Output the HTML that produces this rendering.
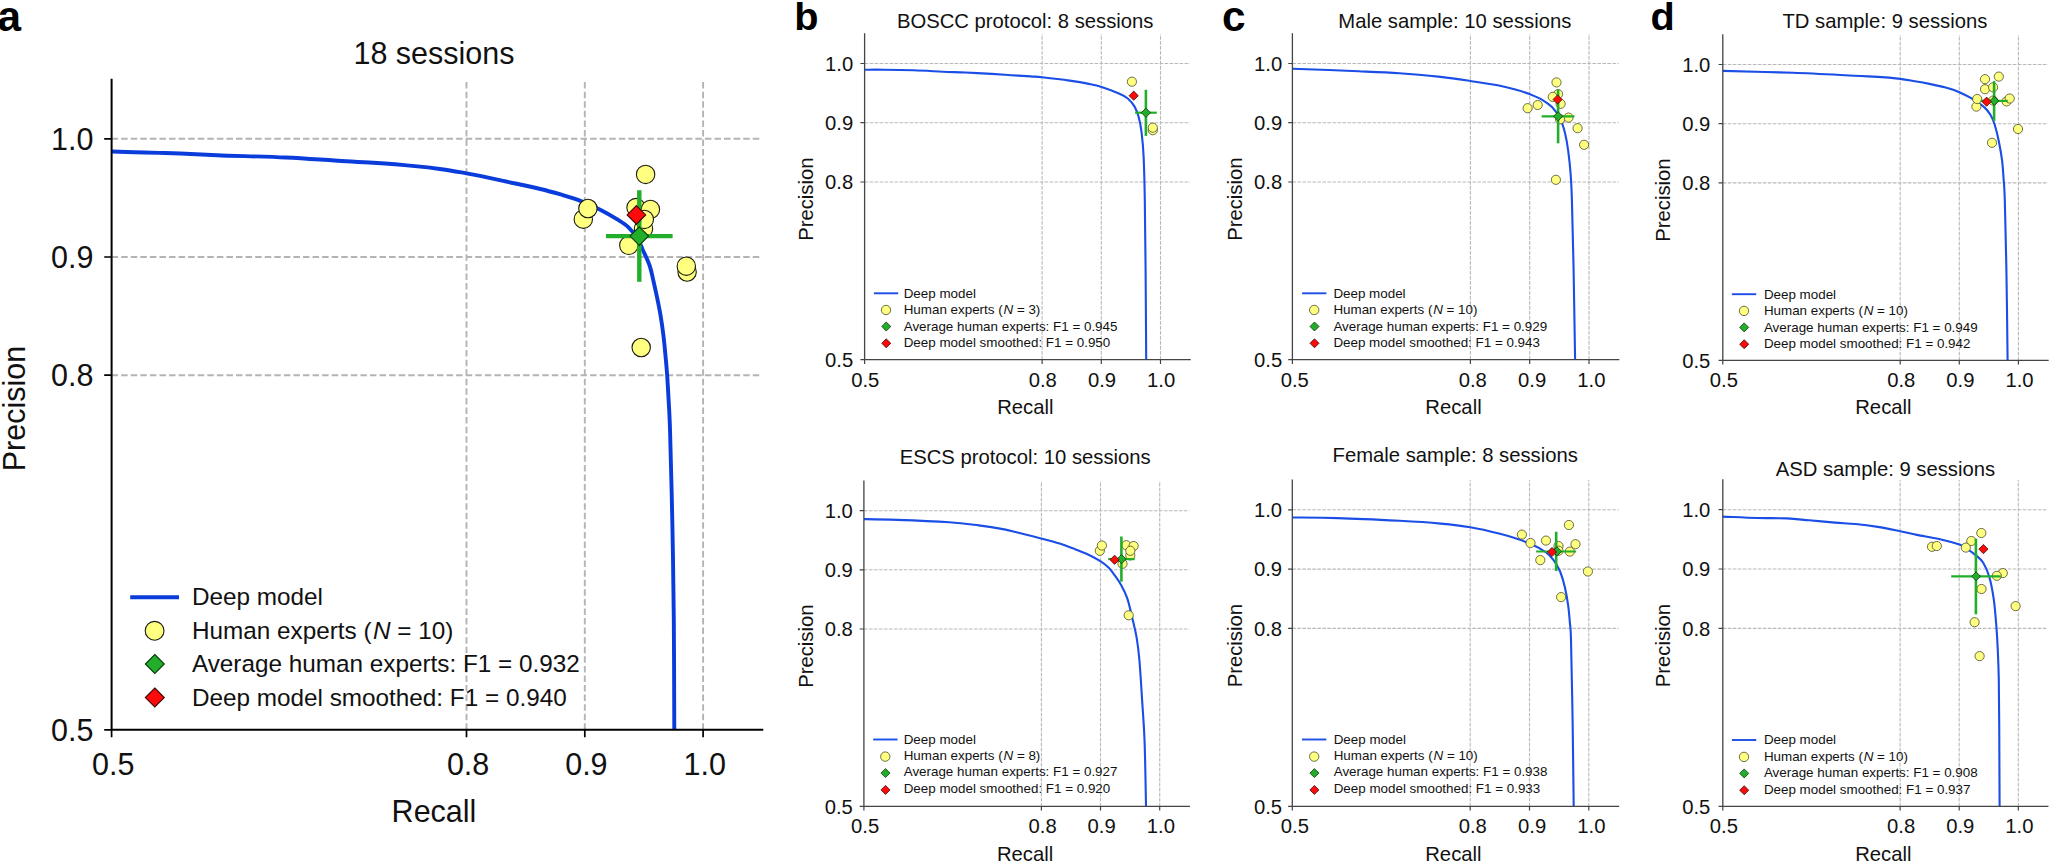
<!DOCTYPE html>
<html lang="en"><head><meta charset="utf-8"><title>Precision-recall curves</title>
<style>html,body{margin:0;padding:0;background:#fff}body{width:2049px;height:862px;overflow:hidden}svg{display:block;font-family:"Liberation Sans", Arial, Helvetica, sans-serif;fill:#111}</style></head><body>
<svg width="2049" height="862" viewBox="0 0 2049 862" role="img" aria-label="Precision-recall curves of the deep model versus human experts">
<rect width="2049" height="862" fill="#fff"/>
<g>
<path d="M466.5 729.8V79.7M584.8 729.8V79.7M703.1 729.8V79.7M111.6 138.8H762.3M111.6 257H762.3M111.6 375.2H762.3" fill="none" stroke="#b4b4b4" stroke-width="1.9" stroke-dasharray="6.5 3.07"/>
<path d="M111.6 151.5C115.5 151.6 127.2 152 135 152.2C142.8 152.4 151.1 152.7 158.6 152.9C166.1 153.1 170.2 153.1 180 153.5C189.8 153.9 199.5 154.5 217.1 155.2C234.7 155.9 266 156.6 285.5 157.5C305 158.4 319.7 159.6 334.3 160.5C348.9 161.4 360.3 161.9 373.3 162.8C386.3 163.7 400.9 164.8 412.3 165.9C423.7 167 432.6 168 441.6 169.2C450.6 170.4 460 172.2 466.4 173.3C472.8 174.4 473.9 174.6 480 175.9C486.1 177.2 493.1 178.7 503.2 180.9C513.2 183.1 530.2 186.6 540.3 189C550.3 191.4 556.9 193.4 563.5 195.3C570.1 197.2 573.6 198.2 579.8 200.6C586 203 594.5 206.8 600.7 209.9C606.9 213 612.3 216.3 616.9 219.2C621.5 222.1 625.1 224.1 628.5 227.3C631.9 230.5 635.1 234.9 637.5 238.6C639.9 242.3 640.7 245.2 642.7 249.7C644.7 254.2 647.8 260.2 649.6 265.5C651.4 270.8 652.2 275.6 653.5 281.2C654.8 286.8 656.2 293.4 657.4 299C658.5 304.6 659.4 308.8 660.4 314.7C661.4 320.6 662.4 327.2 663.3 334.4C664.2 341.6 665.1 351.2 665.7 358.1C666.4 365 666.7 368.8 667.2 375.8C667.7 382.8 668.1 390.4 668.6 399.9C669.1 409.4 669.5 411.9 670.1 432.8C670.7 453.8 671.8 494.7 672.4 525.6C673 556.5 673.5 584.4 673.8 618.4C674.1 652.4 674.2 711 674.3 729.5" fill="none" stroke="#0a3cdc" stroke-width="3.9" stroke-linejoin="round"/>
<path d="M111.6 79.7V729.8H762.3" fill="none" stroke="#000" stroke-width="2.0" stroke-linecap="square"/>
<path d="M111.6 729.8v7.4M466.5 729.8v7.4M584.8 729.8v7.4M703.1 729.8v7.4M111.6 729.8h-7.4M111.6 138.8h-7.4M111.6 257h-7.4M111.6 375.2h-7.4" fill="none" stroke="#000" stroke-width="1.7"/>
<circle cx="645.6" cy="174.4" r="9.2" fill="#ffff80" stroke="#1a1a10" stroke-width="1.1"/>
<circle cx="583.3" cy="219.2" r="9.2" fill="#ffff80" stroke="#1a1a10" stroke-width="1.1"/>
<circle cx="587.9" cy="208.5" r="9.2" fill="#ffff80" stroke="#1a1a10" stroke-width="1.1"/>
<circle cx="636" cy="207.6" r="9.2" fill="#ffff80" stroke="#1a1a10" stroke-width="1.1"/>
<circle cx="650.4" cy="209.4" r="9.2" fill="#ffff80" stroke="#1a1a10" stroke-width="1.1"/>
<circle cx="643.5" cy="228.8" r="9.2" fill="#ffff80" stroke="#1a1a10" stroke-width="1.1"/>
<circle cx="644.3" cy="219.4" r="9.2" fill="#ffff80" stroke="#1a1a10" stroke-width="1.1"/>
<circle cx="628.8" cy="245.3" r="9.2" fill="#ffff80" stroke="#1a1a10" stroke-width="1.1"/>
<circle cx="687.1" cy="272" r="9.2" fill="#ffff80" stroke="#1a1a10" stroke-width="1.1"/>
<circle cx="686.3" cy="266.2" r="9.2" fill="#ffff80" stroke="#1a1a10" stroke-width="1.1"/>
<circle cx="641.2" cy="347.5" r="9.2" fill="#ffff80" stroke="#1a1a10" stroke-width="1.1"/>
<path d="M606 236.1H672.6" stroke="#22ae2a" stroke-width="4.4" fill="none"/>
<path d="M639.3 190.2V281.8" stroke="#22ae2a" stroke-width="4.4" fill="none"/>
<path d="M639.3 226.8L648.6 236.1L639.3 245.4L630 236.1Z" fill="#22ae2a" stroke="#0a3a0a" stroke-width="1.1" stroke-linejoin="miter"/>
<path d="M636.4 205.6L645.7 214.9L636.4 224.2L627.1 214.9Z" fill="#ff0a0a" stroke="#3a0a0a" stroke-width="1.1" stroke-linejoin="miter"/>
<text x="113.2" y="774.6" font-size="30.5" text-anchor="middle">0.5</text>
<text x="468.1" y="774.6" font-size="30.5" text-anchor="middle">0.8</text>
<text x="586.4" y="774.6" font-size="30.5" text-anchor="middle">0.9</text>
<text x="704.7" y="774.6" font-size="30.5" text-anchor="middle">1.0</text>
<text x="93.4" y="740.7" font-size="30.5" text-anchor="end">0.5</text>
<text x="93.4" y="149.7" font-size="30.5" text-anchor="end">1.0</text>
<text x="93.4" y="267.9" font-size="30.5" text-anchor="end">0.9</text>
<text x="93.4" y="386.1" font-size="30.5" text-anchor="end">0.8</text>
<text x="434" y="822" font-size="30.5" text-anchor="middle">Recall</text>
<text transform="translate(24.8 408.6) rotate(-90)" font-size="30.5" text-anchor="middle">Precision</text>
<text x="434" y="64" font-size="30.5" text-anchor="middle">18 sessions</text>
<path d="M130.2 597.3H179" stroke="#0a3cdc" stroke-width="3.9" fill="none"/>
<circle cx="154.6" cy="630.8" r="9.4" fill="#ffff80" stroke="#1a1a10" stroke-width="1.1"/>
<path d="M154.8 654.5L164.3 664L154.8 673.5L145.3 664Z" fill="#22ae2a" stroke="#0a3a0a" stroke-width="1.1" stroke-linejoin="miter"/>
<path d="M154.8 688L164.3 697.5L154.8 707L145.3 697.5Z" fill="#ff0a0a" stroke="#3a0a0a" stroke-width="1.1" stroke-linejoin="miter"/>
<text x="191.9" y="605" font-size="24.3" text-anchor="start">Deep model</text>
<text x="191.9" y="638.7" font-size="24.3">Human experts (<tspan font-style="italic" dx="1.5">N</tspan> = 10)</text>
<text x="191.9" y="672.2" font-size="24.3" text-anchor="start">Average human experts: F1 = 0.932</text>
<text x="191.9" y="705.7" font-size="24.3" text-anchor="start">Deep model smoothed: F1 = 0.940</text>
</g>
<g>
<path d="M1042.1 359.7V33.9M1101.3 359.7V33.9M1160.5 359.7V33.9M864.6 63.5H1190.1M864.6 122.7H1190.1M864.6 182H1190.1" fill="none" stroke="#b9b9b9" stroke-width="1.1" stroke-dasharray="3.6 1.4"/>
<path d="M864.6 69.7C867.9 69.7 876.1 69.6 884.3 69.7C892.5 69.8 903.9 70 913.6 70.3C923.4 70.6 934.2 71.3 942.8 71.7C951.4 72.1 957.1 72.1 965.3 72.5C973.4 72.9 984.1 73.5 991.7 73.9C999.4 74.4 1004.7 74.8 1011.2 75.2C1017.7 75.6 1025.5 76.1 1030.7 76.4C1035.9 76.8 1035.7 76.6 1042.2 77.3C1048.7 78 1061.8 79.5 1069.6 80.6C1077.4 81.7 1083.7 82.8 1089 83.9C1094.3 85 1096.6 85.4 1101.6 87C1106.6 88.6 1114.5 91.6 1118.9 93.5C1123.3 95.4 1125.2 96.3 1127.8 98.5C1130.4 100.7 1132.9 103.9 1134.7 106.9C1136.5 110 1137.4 112.5 1138.6 116.8C1139.8 121.1 1140.8 126 1141.6 132.6C1142.4 139.2 1143.1 145.1 1143.6 156.3C1144.1 167.5 1144.5 181.1 1144.8 200C1145.1 218.9 1145.4 243.4 1145.6 270C1145.8 296.6 1146.1 344.5 1146.2 359.4" fill="none" stroke="#1a4ee6" stroke-width="2.1" stroke-linejoin="round"/>
<path d="M864.6 33.9V359.7H1190.1" fill="none" stroke="#444" stroke-width="1.3" stroke-linecap="square"/>
<path d="M864.6 359.7v4.2M1042.1 359.7v4.2M1101.3 359.7v4.2M1160.5 359.7v4.2M864.6 359.7h-4.2M864.6 63.5h-4.2M864.6 122.7h-4.2M864.6 182h-4.2" fill="none" stroke="#444" stroke-width="1.2"/>
<circle cx="1152.8" cy="130.2" r="4.6" fill="#ffff80" stroke="#4a4a2a" stroke-width="0.8"/>
<circle cx="1152.8" cy="127.7" r="4.6" fill="#ffff80" stroke="#4a4a2a" stroke-width="0.8"/>
<circle cx="1131.9" cy="81.7" r="4.6" fill="#ffff80" stroke="#4a4a2a" stroke-width="0.8"/>
<path d="M1135.1 112.7H1156.8" stroke="#22ae2a" stroke-width="2.2" fill="none"/>
<path d="M1145.9 89.8V135.9" stroke="#22ae2a" stroke-width="2.6" fill="none"/>
<path d="M1145.9 108.1L1150.5 112.7L1145.9 117.3L1141.3 112.7Z" fill="#22ae2a" stroke="#0a3a0a" stroke-width="0.8" stroke-linejoin="miter"/>
<path d="M1133.7 91.1L1138.3 95.7L1133.7 100.3L1129.1 95.7Z" fill="#ff0a0a" stroke="#3a0a0a" stroke-width="0.8" stroke-linejoin="miter"/>
<text x="865.3" y="386.7" font-size="20.25" text-anchor="middle">0.5</text>
<text x="1042.8" y="386.7" font-size="20.25" text-anchor="middle">0.8</text>
<text x="1102" y="386.7" font-size="20.25" text-anchor="middle">0.9</text>
<text x="1161.2" y="386.7" font-size="20.25" text-anchor="middle">1.0</text>
<text x="853.2" y="366.9" font-size="20.25" text-anchor="end">0.5</text>
<text x="853.2" y="70.7" font-size="20.25" text-anchor="end">1.0</text>
<text x="853.2" y="130" font-size="20.25" text-anchor="end">0.9</text>
<text x="853.2" y="189.2" font-size="20.25" text-anchor="end">0.8</text>
<text x="1025.3" y="414.3" font-size="20.25" text-anchor="middle">Recall</text>
<text transform="translate(813.2 199.2) rotate(-90)" font-size="20.25" text-anchor="middle">Precision</text>
<text x="1025.2" y="27.7" font-size="20.25" text-anchor="middle">BOSCC protocol: 8 sessions</text>
<path d="M873.9 293.3H898.2" stroke="#1a4ee6" stroke-width="1.9" fill="none"/>
<circle cx="886" cy="310" r="4.7" fill="#ffff80" stroke="#4a4a2a" stroke-width="0.8"/>
<path d="M886.2 322L890.8 326.5L886.2 331L881.8 326.5Z" fill="#22ae2a" stroke="#0a3a0a" stroke-width="0.8" stroke-linejoin="miter"/>
<path d="M886.2 338.8L890.8 343.3L886.2 347.8L881.8 343.3Z" fill="#ff0a0a" stroke="#3a0a0a" stroke-width="0.8" stroke-linejoin="miter"/>
<text x="903.7" y="297.8" font-size="13.4" text-anchor="start">Deep model</text>
<text x="903.7" y="314.2" font-size="13.4">Human experts (<tspan font-style="italic" dx="0.8">N</tspan> = 3)</text>
<text x="903.7" y="330.6" font-size="13.4" text-anchor="start">Average human experts: F1 = 0.945</text>
<text x="903.7" y="347.3" font-size="13.4" text-anchor="start">Deep model smoothed: F1 = 0.950</text>
</g>
<g>
<path d="M1041.4 806.4V481.1M1100.5 806.4V481.1M1159.7 806.4V481.1M863.9 510.7H1189.3M863.9 569.8H1189.3M863.9 629H1189.3" fill="none" stroke="#b9b9b9" stroke-width="1.1" stroke-dasharray="3.6 1.4"/>
<path d="M863.9 519.1C869.4 519.2 882.9 519.4 897.1 519.9C911.3 520.4 935.5 521.4 949.1 522.3C962.7 523.2 969.8 524.3 978.8 525.4C987.8 526.5 995.5 527.7 1002.9 529.1C1010.3 530.5 1017 532.5 1023.4 534C1029.8 535.5 1035 536.8 1041 538.4C1047 540 1054.2 541.9 1059.6 543.6C1065 545.3 1069 546.9 1073.5 548.6C1078 550.3 1082.2 551.8 1086.5 553.8C1090.8 555.8 1095.8 558.4 1099.5 560.7C1103.2 563 1106.2 565.2 1108.8 567.8C1111.4 570.4 1113.3 573.3 1115.3 576.1C1117.3 578.9 1118.8 580.8 1120.8 584.5C1122.8 588.2 1125.3 592.4 1127.3 598.4C1129.3 604.4 1131.4 614.2 1132.9 620.7C1134.5 627.2 1135.5 630.9 1136.6 637.4C1137.7 643.9 1138.4 648.6 1139.4 660C1140.4 671.4 1141.6 692.3 1142.5 706C1143.4 719.7 1144 725.3 1144.6 742C1145.2 758.7 1145.8 795.3 1146 806" fill="none" stroke="#1a4ee6" stroke-width="2.1" stroke-linejoin="round"/>
<path d="M863.9 481.1V806.4H1189.3" fill="none" stroke="#444" stroke-width="1.3" stroke-linecap="square"/>
<path d="M863.9 806.4v4.2M1041.4 806.4v4.2M1100.5 806.4v4.2M1159.7 806.4v4.2M863.9 806.4h-4.2M863.9 510.7h-4.2M863.9 569.8h-4.2M863.9 629h-4.2" fill="none" stroke="#444" stroke-width="1.2"/>
<circle cx="1099.8" cy="550.8" r="4.6" fill="#ffff80" stroke="#4a4a2a" stroke-width="0.8"/>
<circle cx="1101.9" cy="545.5" r="4.6" fill="#ffff80" stroke="#4a4a2a" stroke-width="0.8"/>
<circle cx="1126.3" cy="545.2" r="4.6" fill="#ffff80" stroke="#4a4a2a" stroke-width="0.8"/>
<circle cx="1133.6" cy="546" r="4.6" fill="#ffff80" stroke="#4a4a2a" stroke-width="0.8"/>
<circle cx="1130.3" cy="555.4" r="4.6" fill="#ffff80" stroke="#4a4a2a" stroke-width="0.8"/>
<circle cx="1130.3" cy="550.8" r="4.6" fill="#ffff80" stroke="#4a4a2a" stroke-width="0.8"/>
<circle cx="1122.5" cy="563.8" r="4.6" fill="#ffff80" stroke="#4a4a2a" stroke-width="0.8"/>
<circle cx="1128.7" cy="615.3" r="4.6" fill="#ffff80" stroke="#4a4a2a" stroke-width="0.8"/>
<path d="M1108.2 559.1H1134.7" stroke="#22ae2a" stroke-width="2.2" fill="none"/>
<path d="M1121.4 536.5V581.7" stroke="#22ae2a" stroke-width="2.6" fill="none"/>
<path d="M1121.6 554.5L1126.2 559.1L1121.6 563.7L1117 559.1Z" fill="#22ae2a" stroke="#0a3a0a" stroke-width="0.8" stroke-linejoin="miter"/>
<path d="M1114.6 555.2L1119.2 559.8L1114.6 564.4L1110 559.8Z" fill="#ff0a0a" stroke="#3a0a0a" stroke-width="0.8" stroke-linejoin="miter"/>
<text x="865.1" y="833.4" font-size="20.25" text-anchor="middle">0.5</text>
<text x="1042.6" y="833.4" font-size="20.25" text-anchor="middle">0.8</text>
<text x="1101.7" y="833.4" font-size="20.25" text-anchor="middle">0.9</text>
<text x="1160.9" y="833.4" font-size="20.25" text-anchor="middle">1.0</text>
<text x="852.9" y="813.6" font-size="20.25" text-anchor="end">0.5</text>
<text x="852.9" y="517.9" font-size="20.25" text-anchor="end">1.0</text>
<text x="852.9" y="577.1" font-size="20.25" text-anchor="end">0.9</text>
<text x="852.9" y="636.2" font-size="20.25" text-anchor="end">0.8</text>
<text x="1025.1" y="861" font-size="20.25" text-anchor="middle">Recall</text>
<text transform="translate(812.9 646.2) rotate(-90)" font-size="20.25" text-anchor="middle">Precision</text>
<text x="1025.2" y="463.8" font-size="20.25" text-anchor="middle">ESCS protocol: 10 sessions</text>
<path d="M873.2 739.5H897.5" stroke="#1a4ee6" stroke-width="1.9" fill="none"/>
<circle cx="885.3" cy="756.6" r="4.7" fill="#ffff80" stroke="#4a4a2a" stroke-width="0.8"/>
<path d="M885.5 768.6L890 773.1L885.5 777.6L881 773.1Z" fill="#22ae2a" stroke="#0a3a0a" stroke-width="0.8" stroke-linejoin="miter"/>
<path d="M885.5 785.4L890 789.9L885.5 794.4L881 789.9Z" fill="#ff0a0a" stroke="#3a0a0a" stroke-width="0.8" stroke-linejoin="miter"/>
<text x="903.7" y="743.6" font-size="13.4" text-anchor="start">Deep model</text>
<text x="903.7" y="760" font-size="13.4">Human experts (<tspan font-style="italic" dx="0.8">N</tspan> = 8)</text>
<text x="903.7" y="776.4" font-size="13.4" text-anchor="start">Average human experts: F1 = 0.927</text>
<text x="903.7" y="793.1" font-size="13.4" text-anchor="start">Deep model smoothed: F1 = 0.920</text>
</g>
<g>
<path d="M1470.4 359.7V33.9M1529.7 359.7V33.9M1589 359.7V33.9M1292.4 63.5H1618.7M1292.4 122.7H1618.7M1292.4 182H1618.7" fill="none" stroke="#b9b9b9" stroke-width="1.1" stroke-dasharray="3.6 1.4"/>
<path d="M1292.4 68.7C1303.4 69.1 1340.7 70.5 1358.5 71.3C1376.3 72 1385.8 72.3 1399.5 73.2C1413.2 74.1 1428.7 75.6 1440.5 76.9C1452.3 78.2 1460.5 79.5 1470.4 81C1480.3 82.5 1492.4 84.2 1500 85.7C1507.6 87.2 1511.3 88.3 1516.2 89.7C1521.1 91.1 1525.3 92.4 1529.6 94.1C1533.9 95.8 1538.5 97.6 1542.2 99.8C1545.9 102 1549 104 1552 107.1C1555 110.2 1557.9 114.2 1560.1 118.5C1562.3 122.8 1563.7 127.7 1565 133.1C1566.3 138.5 1567.3 144.1 1568.2 150.9C1569.1 157.7 1570 165.5 1570.6 173.7C1571.2 181.9 1571.4 183.9 1571.9 200C1572.4 216.1 1573.1 243.4 1573.6 270C1574.1 296.6 1574.8 344.5 1575.1 359.4" fill="none" stroke="#1a4ee6" stroke-width="2.1" stroke-linejoin="round"/>
<path d="M1292.4 33.9V359.7H1618.7" fill="none" stroke="#444" stroke-width="1.3" stroke-linecap="square"/>
<path d="M1292.4 359.7v4.2M1470.4 359.7v4.2M1529.7 359.7v4.2M1589 359.7v4.2M1292.4 359.7h-4.2M1292.4 63.5h-4.2M1292.4 122.7h-4.2M1292.4 182h-4.2" fill="none" stroke="#444" stroke-width="1.2"/>
<circle cx="1556.5" cy="82.4" r="4.6" fill="#ffff80" stroke="#4a4a2a" stroke-width="0.8"/>
<circle cx="1558.1" cy="94.1" r="4.6" fill="#ffff80" stroke="#4a4a2a" stroke-width="0.8"/>
<circle cx="1552.8" cy="96.9" r="4.6" fill="#ffff80" stroke="#4a4a2a" stroke-width="0.8"/>
<circle cx="1560.6" cy="103.8" r="4.6" fill="#ffff80" stroke="#4a4a2a" stroke-width="0.8"/>
<circle cx="1537.7" cy="105" r="4.6" fill="#ffff80" stroke="#4a4a2a" stroke-width="0.8"/>
<circle cx="1527.6" cy="108.2" r="4.6" fill="#ffff80" stroke="#4a4a2a" stroke-width="0.8"/>
<circle cx="1568.5" cy="117.6" r="4.6" fill="#ffff80" stroke="#4a4a2a" stroke-width="0.8"/>
<circle cx="1560.1" cy="119.3" r="4.6" fill="#ffff80" stroke="#4a4a2a" stroke-width="0.8"/>
<circle cx="1577.6" cy="128.2" r="4.6" fill="#ffff80" stroke="#4a4a2a" stroke-width="0.8"/>
<circle cx="1584.1" cy="144.8" r="4.6" fill="#ffff80" stroke="#4a4a2a" stroke-width="0.8"/>
<circle cx="1555.9" cy="179.8" r="4.6" fill="#ffff80" stroke="#4a4a2a" stroke-width="0.8"/>
<path d="M1541.7 116.3H1574.4" stroke="#22ae2a" stroke-width="2.2" fill="none"/>
<path d="M1558.1 89.7V143.3" stroke="#22ae2a" stroke-width="2.6" fill="none"/>
<path d="M1558.1 111.7L1562.7 116.3L1558.1 120.9L1553.5 116.3Z" fill="#22ae2a" stroke="#0a3a0a" stroke-width="0.8" stroke-linejoin="miter"/>
<path d="M1557.6 94.9L1562.2 99.5L1557.6 104.1L1553 99.5Z" fill="#ff0a0a" stroke="#3a0a0a" stroke-width="0.8" stroke-linejoin="miter"/>
<text x="1294.8" y="386.7" font-size="20.25" text-anchor="middle">0.5</text>
<text x="1472.8" y="386.7" font-size="20.25" text-anchor="middle">0.8</text>
<text x="1532.1" y="386.7" font-size="20.25" text-anchor="middle">0.9</text>
<text x="1591.4" y="386.7" font-size="20.25" text-anchor="middle">1.0</text>
<text x="1282.2" y="366.9" font-size="20.25" text-anchor="end">0.5</text>
<text x="1282.2" y="70.7" font-size="20.25" text-anchor="end">1.0</text>
<text x="1282.2" y="130" font-size="20.25" text-anchor="end">0.9</text>
<text x="1282.2" y="189.2" font-size="20.25" text-anchor="end">0.8</text>
<text x="1453.5" y="414.3" font-size="20.25" text-anchor="middle">Recall</text>
<text transform="translate(1242.1 199.2) rotate(-90)" font-size="20.25" text-anchor="middle">Precision</text>
<text x="1454.8" y="27.7" font-size="20.25" text-anchor="middle">Male sample: 10 sessions</text>
<path d="M1302.1 293.3H1326.4" stroke="#1a4ee6" stroke-width="1.9" fill="none"/>
<circle cx="1314.2" cy="310" r="4.7" fill="#ffff80" stroke="#4a4a2a" stroke-width="0.8"/>
<path d="M1314.5 322L1319 326.5L1314.5 331L1310 326.5Z" fill="#22ae2a" stroke="#0a3a0a" stroke-width="0.8" stroke-linejoin="miter"/>
<path d="M1314.5 338.8L1319 343.3L1314.5 347.8L1310 343.3Z" fill="#ff0a0a" stroke="#3a0a0a" stroke-width="0.8" stroke-linejoin="miter"/>
<text x="1333.4" y="297.8" font-size="13.4" text-anchor="start">Deep model</text>
<text x="1333.4" y="314.2" font-size="13.4">Human experts (<tspan font-style="italic" dx="0.8">N</tspan> = 10)</text>
<text x="1333.4" y="330.6" font-size="13.4" text-anchor="start">Average human experts: F1 = 0.929</text>
<text x="1333.4" y="347.3" font-size="13.4" text-anchor="start">Deep model smoothed: F1 = 0.943</text>
</g>
<g>
<path d="M1470.2 806.4V480.1M1529.5 806.4V480.1M1588.8 806.4V480.1M1292.3 509.8H1618.5M1292.3 569.1H1618.5M1292.3 628.4H1618.5" fill="none" stroke="#b9b9b9" stroke-width="1.1" stroke-dasharray="3.6 1.4"/>
<path d="M1292.3 517.5C1299.9 517.6 1320.1 517.6 1338 518.1C1355.9 518.6 1382.4 519.9 1399.5 520.8C1416.6 521.7 1428.7 522.5 1440.5 523.6C1452.3 524.7 1460.5 525.6 1470.4 527.3C1480.3 529 1492.4 531.9 1500 533.8C1507.6 535.7 1510.8 536.8 1516.2 538.6C1521.6 540.4 1527.6 542.5 1532.5 544.7C1537.4 546.9 1542 549.4 1545.5 552C1549 554.6 1551.2 556.9 1553.6 560.1C1556 563.4 1558.2 566.9 1560.1 571.5C1562 576.1 1563.7 582 1565 587.7C1566.3 593.4 1567.4 599.9 1568.2 605.6C1569 611.3 1569.3 616.1 1569.8 621.8C1570.3 627.5 1570.5 623.6 1571 640C1571.5 656.4 1572.1 692.3 1572.6 720C1573 747.7 1573.5 791.7 1573.7 806" fill="none" stroke="#1a4ee6" stroke-width="2.1" stroke-linejoin="round"/>
<path d="M1292.3 480.1V806.4H1618.5" fill="none" stroke="#444" stroke-width="1.3" stroke-linecap="square"/>
<path d="M1292.3 806.4v4.2M1470.2 806.4v4.2M1529.5 806.4v4.2M1588.8 806.4v4.2M1292.3 806.4h-4.2M1292.3 509.8h-4.2M1292.3 569.1h-4.2M1292.3 628.4h-4.2" fill="none" stroke="#444" stroke-width="1.2"/>
<circle cx="1568.9" cy="525" r="4.6" fill="#ffff80" stroke="#4a4a2a" stroke-width="0.8"/>
<circle cx="1521.9" cy="534.6" r="4.6" fill="#ffff80" stroke="#4a4a2a" stroke-width="0.8"/>
<circle cx="1530.5" cy="543" r="4.6" fill="#ffff80" stroke="#4a4a2a" stroke-width="0.8"/>
<circle cx="1546" cy="540.6" r="4.6" fill="#ffff80" stroke="#4a4a2a" stroke-width="0.8"/>
<circle cx="1558.5" cy="546" r="4.6" fill="#ffff80" stroke="#4a4a2a" stroke-width="0.8"/>
<circle cx="1575.5" cy="544.2" r="4.6" fill="#ffff80" stroke="#4a4a2a" stroke-width="0.8"/>
<circle cx="1558.5" cy="550.7" r="4.6" fill="#ffff80" stroke="#4a4a2a" stroke-width="0.8"/>
<circle cx="1569.8" cy="551.6" r="4.6" fill="#ffff80" stroke="#4a4a2a" stroke-width="0.8"/>
<circle cx="1540.3" cy="560.1" r="4.6" fill="#ffff80" stroke="#4a4a2a" stroke-width="0.8"/>
<circle cx="1587.9" cy="571.5" r="4.6" fill="#ffff80" stroke="#4a4a2a" stroke-width="0.8"/>
<circle cx="1561.1" cy="597.1" r="4.6" fill="#ffff80" stroke="#4a4a2a" stroke-width="0.8"/>
<path d="M1536.1 551.5H1576" stroke="#22ae2a" stroke-width="2.2" fill="none"/>
<path d="M1556.2 531.7V571" stroke="#22ae2a" stroke-width="2.6" fill="none"/>
<path d="M1557 546.8L1561.6 551.4L1557 556L1552.4 551.4Z" fill="#22ae2a" stroke="#0a3a0a" stroke-width="0.8" stroke-linejoin="miter"/>
<path d="M1552 547.4L1556.6 552L1552 556.6L1547.4 552Z" fill="#ff0a0a" stroke="#3a0a0a" stroke-width="0.8" stroke-linejoin="miter"/>
<text x="1294.9" y="833.4" font-size="20.25" text-anchor="middle">0.5</text>
<text x="1472.8" y="833.4" font-size="20.25" text-anchor="middle">0.8</text>
<text x="1532.1" y="833.4" font-size="20.25" text-anchor="middle">0.9</text>
<text x="1591.4" y="833.4" font-size="20.25" text-anchor="middle">1.0</text>
<text x="1282.1" y="813.6" font-size="20.25" text-anchor="end">0.5</text>
<text x="1282.1" y="517" font-size="20.25" text-anchor="end">1.0</text>
<text x="1282.1" y="576.4" font-size="20.25" text-anchor="end">0.9</text>
<text x="1282.1" y="635.7" font-size="20.25" text-anchor="end">0.8</text>
<text x="1453.4" y="861" font-size="20.25" text-anchor="middle">Recall</text>
<text transform="translate(1241.8 645.7) rotate(-90)" font-size="20.25" text-anchor="middle">Precision</text>
<text x="1455.2" y="462.4" font-size="20.25" text-anchor="middle">Female sample: 8 sessions</text>
<path d="M1302 739.5H1326.3" stroke="#1a4ee6" stroke-width="1.9" fill="none"/>
<circle cx="1314.2" cy="756.6" r="4.7" fill="#ffff80" stroke="#4a4a2a" stroke-width="0.8"/>
<path d="M1314.4 768.6L1318.9 773.1L1314.4 777.6L1309.9 773.1Z" fill="#22ae2a" stroke="#0a3a0a" stroke-width="0.8" stroke-linejoin="miter"/>
<path d="M1314.4 785.4L1318.9 789.9L1314.4 794.4L1309.9 789.9Z" fill="#ff0a0a" stroke="#3a0a0a" stroke-width="0.8" stroke-linejoin="miter"/>
<text x="1333.7" y="743.6" font-size="13.4" text-anchor="start">Deep model</text>
<text x="1333.7" y="760" font-size="13.4">Human experts (<tspan font-style="italic" dx="0.8">N</tspan> = 10)</text>
<text x="1333.7" y="776.4" font-size="13.4" text-anchor="start">Average human experts: F1 = 0.938</text>
<text x="1333.7" y="793.1" font-size="13.4" text-anchor="start">Deep model smoothed: F1 = 0.933</text>
</g>
<g>
<path d="M1900.2 360.4V34.9M1959.3 360.4V34.9M2018.4 360.4V34.9M1722.8 64.5H2048M1722.8 123.7H2048M1722.8 182.9H2048" fill="none" stroke="#b9b9b9" stroke-width="1.1" stroke-dasharray="3.6 1.4"/>
<path d="M1722.8 70.9C1734.5 71.2 1771 72 1793 72.8C1815 73.6 1840.4 75.1 1854.5 75.8C1868.6 76.5 1870.2 76.4 1877.8 76.9C1885.4 77.4 1894 78.2 1900.2 78.9C1906.4 79.6 1910 80.4 1914.9 81.2C1919.8 82 1923.9 82.7 1929.5 83.9C1935.1 85.1 1943.3 86.8 1948.3 88.2C1953.3 89.6 1955.6 90.5 1959.4 92.2C1963.2 93.9 1967.1 95.7 1971.2 98.2C1975.3 100.7 1981 104.3 1984.2 107.1C1987.5 109.9 1988.9 112.2 1990.7 115.2C1992.5 118.2 1993.5 120.7 1994.8 125C1996.1 129.3 1997.6 135.2 1998.8 141.2C2000 147.1 2001.3 154.2 2002.1 160.7C2002.9 167.2 2003.2 173.6 2003.7 180.2C2004.2 186.8 2004.3 185 2004.8 200C2005.2 215 2005.9 243.3 2006.4 270C2006.9 296.7 2007.4 345 2007.6 360" fill="none" stroke="#1a4ee6" stroke-width="2.1" stroke-linejoin="round"/>
<path d="M1722.8 34.9V360.4H2048" fill="none" stroke="#444" stroke-width="1.3" stroke-linecap="square"/>
<path d="M1722.8 360.4v4.2M1900.2 360.4v4.2M1959.3 360.4v4.2M2018.4 360.4v4.2M1722.8 360.4h-4.2M1722.8 64.5h-4.2M1722.8 123.7h-4.2M1722.8 182.9h-4.2" fill="none" stroke="#444" stroke-width="1.2"/>
<circle cx="1985" cy="79.2" r="4.6" fill="#ffff80" stroke="#4a4a2a" stroke-width="0.8"/>
<circle cx="1998.8" cy="76.6" r="4.6" fill="#ffff80" stroke="#4a4a2a" stroke-width="0.8"/>
<circle cx="1985" cy="89.2" r="4.6" fill="#ffff80" stroke="#4a4a2a" stroke-width="0.8"/>
<circle cx="1993.1" cy="87.3" r="4.6" fill="#ffff80" stroke="#4a4a2a" stroke-width="0.8"/>
<circle cx="1976.4" cy="106.6" r="4.6" fill="#ffff80" stroke="#4a4a2a" stroke-width="0.8"/>
<circle cx="1977.2" cy="99" r="4.6" fill="#ffff80" stroke="#4a4a2a" stroke-width="0.8"/>
<circle cx="1993.1" cy="100.6" r="4.6" fill="#ffff80" stroke="#4a4a2a" stroke-width="0.8"/>
<circle cx="2006.6" cy="101.4" r="4.6" fill="#ffff80" stroke="#4a4a2a" stroke-width="0.8"/>
<circle cx="2009.7" cy="98.5" r="4.6" fill="#ffff80" stroke="#4a4a2a" stroke-width="0.8"/>
<circle cx="2018" cy="129" r="4.6" fill="#ffff80" stroke="#4a4a2a" stroke-width="0.8"/>
<circle cx="1992" cy="142.8" r="4.6" fill="#ffff80" stroke="#4a4a2a" stroke-width="0.8"/>
<path d="M1980.6 100.9H2007.8" stroke="#22ae2a" stroke-width="2.2" fill="none"/>
<path d="M1994.1 81.1V120.9" stroke="#22ae2a" stroke-width="2.6" fill="none"/>
<path d="M1994.3 96.3L1998.9 100.9L1994.3 105.5L1989.7 100.9Z" fill="#22ae2a" stroke="#0a3a0a" stroke-width="0.8" stroke-linejoin="miter"/>
<path d="M1986.6 97.1L1991.2 101.7L1986.6 106.3L1982 101.7Z" fill="#ff0a0a" stroke="#3a0a0a" stroke-width="0.8" stroke-linejoin="miter"/>
<text x="1723.9" y="386.8" font-size="20.25" text-anchor="middle">0.5</text>
<text x="1901.3" y="386.8" font-size="20.25" text-anchor="middle">0.8</text>
<text x="1960.4" y="386.8" font-size="20.25" text-anchor="middle">0.9</text>
<text x="2019.5" y="386.8" font-size="20.25" text-anchor="middle">1.0</text>
<text x="1710.3" y="367.6" font-size="20.25" text-anchor="end">0.5</text>
<text x="1710.3" y="71.7" font-size="20.25" text-anchor="end">1.0</text>
<text x="1710.3" y="130.9" font-size="20.25" text-anchor="end">0.9</text>
<text x="1710.3" y="190.1" font-size="20.25" text-anchor="end">0.8</text>
<text x="1883.4" y="414.4" font-size="20.25" text-anchor="middle">Recall</text>
<text transform="translate(1670.3 200.1) rotate(-90)" font-size="20.25" text-anchor="middle">Precision</text>
<text x="1884.9" y="27.7" font-size="20.25" text-anchor="middle">TD sample: 9 sessions</text>
<path d="M1731.9 294.2H1756.2" stroke="#1a4ee6" stroke-width="1.9" fill="none"/>
<circle cx="1744" cy="310.9" r="4.7" fill="#ffff80" stroke="#4a4a2a" stroke-width="0.8"/>
<path d="M1744.2 322.9L1748.7 327.4L1744.2 331.9L1739.7 327.4Z" fill="#22ae2a" stroke="#0a3a0a" stroke-width="0.8" stroke-linejoin="miter"/>
<path d="M1744.2 339.7L1748.7 344.2L1744.2 348.7L1739.7 344.2Z" fill="#ff0a0a" stroke="#3a0a0a" stroke-width="0.8" stroke-linejoin="miter"/>
<text x="1763.9" y="298.7" font-size="13.4" text-anchor="start">Deep model</text>
<text x="1763.9" y="315.1" font-size="13.4">Human experts (<tspan font-style="italic" dx="0.8">N</tspan> = 10)</text>
<text x="1763.9" y="331.5" font-size="13.4" text-anchor="start">Average human experts: F1 = 0.949</text>
<text x="1763.9" y="348.2" font-size="13.4" text-anchor="start">Deep model smoothed: F1 = 0.942</text>
</g>
<g>
<path d="M1900.1 806.4V480M1959.2 806.4V480M2018.3 806.4V480M1722.8 509.7H2047.8M1722.8 569H2047.8M1722.8 628.4H2047.8" fill="none" stroke="#b9b9b9" stroke-width="1.1" stroke-dasharray="3.6 1.4"/>
<path d="M1722.8 516.6C1728.5 516.8 1746.4 517.7 1757.1 518C1767.8 518.3 1778.1 518 1786.8 518.4C1795.5 518.8 1801 519.6 1809.1 520.3C1817.1 521 1827.4 522 1835.1 522.6C1842.8 523.2 1848.4 523.3 1855.5 524C1862.6 524.7 1870.4 525.7 1877.8 526.9C1885.2 528.1 1893.6 529.9 1900.1 531.2C1906.6 532.5 1910.3 533.6 1916.8 534.9C1923.3 536.2 1931.9 537.4 1939 539C1946.1 540.6 1955 543.1 1959.5 544.6C1964 546.1 1963.3 546.4 1966 548.2C1968.7 550 1973 553 1975.9 555.4C1978.8 557.8 1981 559.1 1983.2 562.7C1985.5 566.4 1987.7 571.4 1989.4 577.3C1991.1 583.2 1992.4 590.2 1993.6 598.2C1994.8 606.2 1995.6 616.7 1996.3 625.4C1997 634.1 1997.4 641.3 1997.8 650.4C1998.2 659.5 1998.5 665.1 1998.8 680C1999 694.9 1999.2 719 1999.3 740C1999.4 761 1999.5 795 1999.6 806" fill="none" stroke="#1a4ee6" stroke-width="2.1" stroke-linejoin="round"/>
<path d="M1722.8 480V806.4H2047.8" fill="none" stroke="#444" stroke-width="1.3" stroke-linecap="square"/>
<path d="M1722.8 806.4v4.2M1900.1 806.4v4.2M1959.2 806.4v4.2M2018.3 806.4v4.2M1722.8 806.4h-4.2M1722.8 509.7h-4.2M1722.8 569h-4.2M1722.8 628.4h-4.2" fill="none" stroke="#444" stroke-width="1.2"/>
<circle cx="1981.3" cy="533" r="4.6" fill="#ffff80" stroke="#4a4a2a" stroke-width="0.8"/>
<circle cx="1971.3" cy="541" r="4.6" fill="#ffff80" stroke="#4a4a2a" stroke-width="0.8"/>
<circle cx="1965.8" cy="547.6" r="4.6" fill="#ffff80" stroke="#4a4a2a" stroke-width="0.8"/>
<circle cx="1932" cy="546.8" r="4.6" fill="#ffff80" stroke="#4a4a2a" stroke-width="0.8"/>
<circle cx="1936.8" cy="546" r="4.6" fill="#ffff80" stroke="#4a4a2a" stroke-width="0.8"/>
<circle cx="2002.8" cy="573.1" r="4.6" fill="#ffff80" stroke="#4a4a2a" stroke-width="0.8"/>
<circle cx="1996.8" cy="575.8" r="4.6" fill="#ffff80" stroke="#4a4a2a" stroke-width="0.8"/>
<circle cx="1981.5" cy="589" r="4.6" fill="#ffff80" stroke="#4a4a2a" stroke-width="0.8"/>
<circle cx="2015.6" cy="606.1" r="4.6" fill="#ffff80" stroke="#4a4a2a" stroke-width="0.8"/>
<circle cx="1974.6" cy="622.2" r="4.6" fill="#ffff80" stroke="#4a4a2a" stroke-width="0.8"/>
<circle cx="1979.6" cy="656.1" r="4.6" fill="#ffff80" stroke="#4a4a2a" stroke-width="0.8"/>
<path d="M1951.2 576.3H2000.9" stroke="#22ae2a" stroke-width="2.2" fill="none"/>
<path d="M1975.9 538.7V614.3" stroke="#22ae2a" stroke-width="2.6" fill="none"/>
<path d="M1976.1 571.9L1980.5 576.3L1976.1 580.7L1971.7 576.3Z" fill="#22ae2a" stroke="#0a3a0a" stroke-width="0.8" stroke-linejoin="miter"/>
<path d="M1983.4 544.5L1988 549.1L1983.4 553.7L1978.8 549.1Z" fill="#ff0a0a" stroke="#3a0a0a" stroke-width="0.8" stroke-linejoin="miter"/>
<text x="1723.9" y="833.4" font-size="20.25" text-anchor="middle">0.5</text>
<text x="1901.2" y="833.4" font-size="20.25" text-anchor="middle">0.8</text>
<text x="1960.3" y="833.4" font-size="20.25" text-anchor="middle">0.9</text>
<text x="2019.4" y="833.4" font-size="20.25" text-anchor="middle">1.0</text>
<text x="1710.3" y="813.6" font-size="20.25" text-anchor="end">0.5</text>
<text x="1710.3" y="516.9" font-size="20.25" text-anchor="end">1.0</text>
<text x="1710.3" y="576.3" font-size="20.25" text-anchor="end">0.9</text>
<text x="1710.3" y="635.6" font-size="20.25" text-anchor="end">0.8</text>
<text x="1883.3" y="861" font-size="20.25" text-anchor="middle">Recall</text>
<text transform="translate(1670.3 645.6) rotate(-90)" font-size="20.25" text-anchor="middle">Precision</text>
<text x="1885.4" y="475.7" font-size="20.25" text-anchor="middle">ASD sample: 9 sessions</text>
<path d="M1731.9 740H1756.2" stroke="#1a4ee6" stroke-width="1.9" fill="none"/>
<circle cx="1744" cy="756.9" r="4.7" fill="#ffff80" stroke="#4a4a2a" stroke-width="0.8"/>
<path d="M1744.2 768.9L1748.7 773.4L1744.2 777.9L1739.7 773.4Z" fill="#22ae2a" stroke="#0a3a0a" stroke-width="0.8" stroke-linejoin="miter"/>
<path d="M1744.2 785.7L1748.7 790.2L1744.2 794.7L1739.7 790.2Z" fill="#ff0a0a" stroke="#3a0a0a" stroke-width="0.8" stroke-linejoin="miter"/>
<text x="1763.9" y="744.2" font-size="13.4" text-anchor="start">Deep model</text>
<text x="1763.9" y="760.6" font-size="13.4">Human experts (<tspan font-style="italic" dx="0.8">N</tspan> = 10)</text>
<text x="1763.9" y="777" font-size="13.4" text-anchor="start">Average human experts: F1 = 0.908</text>
<text x="1763.9" y="793.7" font-size="13.4" text-anchor="start">Deep model smoothed: F1 = 0.937</text>
</g>
<text x="-2.4" y="30.6" font-size="42.3" font-weight="bold" fill="#000">a</text>
<text x="794.2" y="30.1" font-size="39.7" font-weight="bold" fill="#000">b</text>
<text x="1222" y="30.6" font-size="42.3" font-weight="bold" fill="#000">c</text>
<text x="1650.6" y="30.3" font-size="39.7" font-weight="bold" fill="#000">d</text>
</svg></body></html>
